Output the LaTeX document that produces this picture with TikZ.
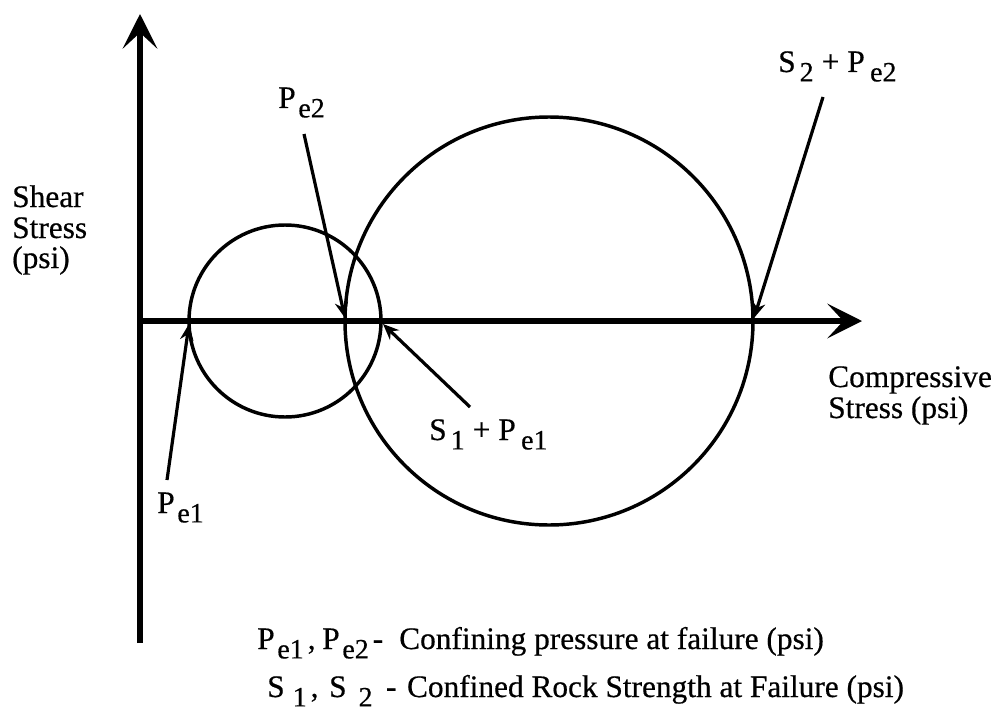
\documentclass[tikz,border=0pt]{standalone}
\usepackage{fontspec}
\setmainfont{Liberation Serif}[FakeBold=0.5]
\usetikzlibrary{arrows.meta}
\newcommand{\lsub}[1]{\raisebox{-0.3em}{\fontsize{21}{21}\selectfont #1}}
\begin{document}
\begin{tikzpicture}[x=0.75pt,y=-0.75pt,
  axisline/.style={line width=3.8pt, line cap=butt},
  axisarrow/.style={axisline, -{Stealth[length=26pt,width=26pt,inset=12pt]}},
  circ/.style={line width=2.6pt},
  lead/.style={line width=2.4pt, -{Stealth[length=12pt,width=10pt,inset=4pt]}},
  lbl/.style={inner sep=0pt, anchor=base west, font=\fontsize{23.5}{23.5}\selectfont},
]
\fill[white] (0,0) rectangle (1002,717);
\useasboundingbox (0,0) rectangle (1002,717);
% axes
\coordinate (O) at (140,321);
\coordinate (ytop) at (140,14);
\coordinate (ybot) at (140,643);
\coordinate (xend) at (862,321);
\draw[axisarrow] (ybot) -- (ytop);
\draw[axisarrow] (O) -- (xend);
% circles
\coordinate (c1) at (285,321);
\coordinate (c2) at (549,321);
\draw[circ] (c1) circle[radius=72pt];
\draw[circ] (c2) circle[radius=153pt];
% points on axis
\coordinate (c1w) at (189,324);
\coordinate (c1e) at (383,324);
\coordinate (c2w) at (345,318);
\coordinate (c2e) at (754,318);
% leader starts
\coordinate (a1) at (167,480);
\coordinate (a2) at (304,134);
\coordinate (a3) at (470,407);
\coordinate (a4) at (823,97);
\draw[lead] (a1) -- (c1w);
\draw[lead] (a2) -- (c2w);
\draw[lead] (a3) -- (c1e);
\draw[lead] (a4) -- (c2e);
% labels
\node[lbl] (lpe1) at (157,513) {P\kern2pt\lsub{e1}};
\node[lbl] (lpe2) at (278,108) {P\kern2pt\lsub{e2}};
\node[lbl] (ls1) at (429,440) {S\kern3pt\lsub{1}\kern6pt+\kern6ptP\kern4pt\lsub{e1}};
\node[lbl] (ls2) at (778,72) {S\kern3pt\lsub{2}\kern6pt+\kern6ptP\kern4pt\lsub{e2}};
\node[lbl] (sh1) at (12,207) {Shear};
\node[lbl] (sh2) at (12,238) {Stress};
\node[lbl] (sh3) at (12,268) {(psi)};
\node[lbl] (cs1) at (828,387) {Compressive};
\node[lbl] (cs2) at (828,418) {Stress (psi)};
\node[lbl] (leg1) at (257,649) {P\kern2pt\lsub{e1}\kern3pt,\kern5ptP\kern2pt\lsub{e2}\kern3pt-\kern12ptConfining pressure at failure (psi)};
\node[lbl] (leg2) at (267,697) {S\kern6pt\lsub{1}\kern3pt,\kern8ptS\kern9pt\lsub{2}\kern10pt-\kern8ptConfined Rock Strength at Failure (psi)};
\end{tikzpicture}
\end{document}
